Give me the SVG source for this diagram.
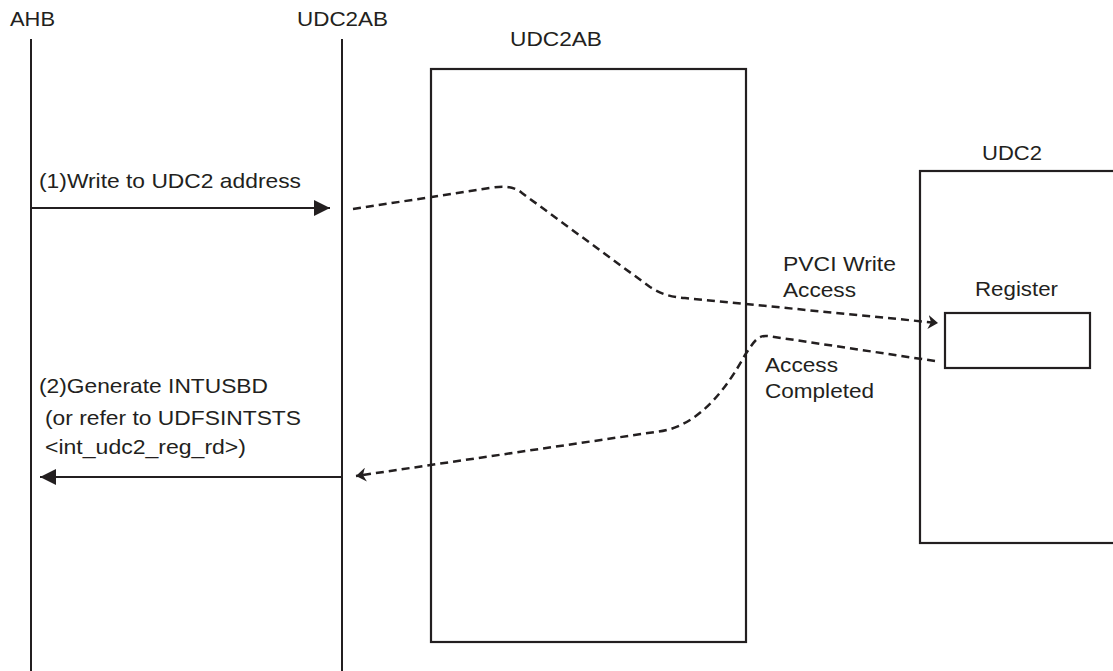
<svg xmlns="http://www.w3.org/2000/svg" width="1113" height="671" viewBox="0 0 1113 671">
<style>
text { font-family: "Liberation Sans", Arial, sans-serif; font-size: 21px; fill: #231f20; }
.line { stroke: #231f20; stroke-width: 2; fill: none; }
.box { stroke: #231f20; stroke-width: 2.2; fill: none; }
.dash { stroke: #231f20; stroke-width: 2.5; fill: none; stroke-dasharray: 8 5; }
</style>
<defs>
<marker id="solidArrow" markerUnits="userSpaceOnUse" viewBox="0 0 16 16" markerWidth="16" markerHeight="16" refX="16" refY="8" orient="auto">
<path d="M0,0 L16,8 L0,16 z" fill="#231f20"/>
</marker>
<marker id="openArrow" markerUnits="userSpaceOnUse" viewBox="0 0 10 14" markerWidth="10" markerHeight="14" refX="10" refY="7" orient="auto">
<path d="M0,0 L10,7 L0,14 L3,7 z" fill="#231f20"/>
</marker>
</defs>
<g id="ahb">
<text x="10" y="26" textLength="45" lengthAdjust="spacingAndGlyphs">AHB</text>
<line class="line" x1="31" y1="39" x2="31" y2="671"/>
</g>
<g id="udc2ab-lifeline">
<text x="297" y="26" textLength="91" lengthAdjust="spacingAndGlyphs">UDC2AB</text>
<line class="line" x1="342" y1="39" x2="342" y2="671"/>
</g>
<g id="udc2ab-box">
<text x="510" y="46" textLength="92" lengthAdjust="spacingAndGlyphs">UDC2AB</text>
<rect class="box" x="431" y="69" width="315" height="573"/>
</g>
<g id="udc2">
<text x="982" y="160" textLength="60" lengthAdjust="spacingAndGlyphs">UDC2</text>
<rect class="box" x="920" y="171" width="220" height="372"/>
</g>
<g id="register">
<text x="975" y="296" textLength="83" lengthAdjust="spacingAndGlyphs">Register</text>
<rect class="box" x="945" y="313" width="145" height="55"/>
</g>
<g id="connectors">
<line class="line" x1="31" y1="208" x2="330" y2="208" marker-end="url(#solidArrow)"/>
<line class="line" x1="342" y1="477" x2="40" y2="477" marker-end="url(#solidArrow)"/>
<path class="dash" d="M353,209 L490,188 Q512,184 522,193 L650,287 Q665,297 685,298 L938,323" marker-end="url(#openArrow)"/>
<path class="dash" d="M935,361 L768,336 C758,335 755,340 745,355 Q705,428 655,432 L356,476" marker-end="url(#openArrow)"/>
</g>
<g id="labels">
<text x="39" y="188" textLength="262" lengthAdjust="spacingAndGlyphs">(1)Write to UDC2 address</text>
<text x="783" y="271" textLength="113" lengthAdjust="spacingAndGlyphs">PVCI Write</text>
<text x="783" y="297" textLength="73" lengthAdjust="spacingAndGlyphs">Access</text>
<text x="765" y="372" textLength="73" lengthAdjust="spacingAndGlyphs">Access</text>
<text x="765" y="398" textLength="109" lengthAdjust="spacingAndGlyphs">Completed</text>
<text x="39" y="393" textLength="229" lengthAdjust="spacingAndGlyphs">(2)Generate INTUSBD</text>
<text x="45" y="425" textLength="256" lengthAdjust="spacingAndGlyphs">(or refer to UDFSINTSTS</text>
<text x="45" y="454" textLength="201" lengthAdjust="spacingAndGlyphs">&lt;int_udc2_reg_rd&gt;)</text>
</g>
</svg>
